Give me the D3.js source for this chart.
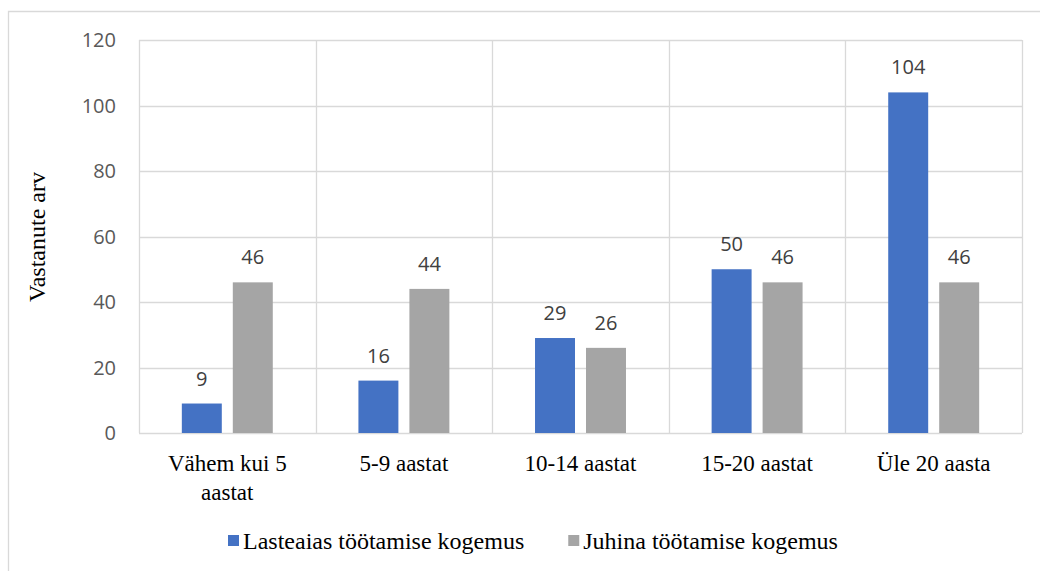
<!DOCTYPE html>
<html><head><meta charset="utf-8">
<script src="https://cdn.jsdelivr.net/npm/d3@7/dist/d3.min.js"></script>
<style>body{margin:0;background:#fff}svg{display:block}
.serif{font-family:"Liberation Serif","Times New Roman",Times,"DejaVu Serif",serif}
.sans{font-family:"Open Sans","Liberation Sans",sans-serif}
</style>
</head><body>
<script>
const categories = [["Vähem kui 5","aastat"],["5-9 aastat"],["10-14 aastat"],["15-20 aastat"],["Üle 20 aasta"]];
const seriesNames = ["Lasteaias töötamise kogemus","Juhina töötamise kogemus"];
const lasteaias = [9,16,29,50,104];
const juhina = [46,44,26,46,46];
const yTicks = [0,20,40,60,80,100,120];
const colors = ["#4472C4","#A5A5A5"];

(function(){
const W=1040,H=571;
const svg=d3.select("body").append("svg").attr("width",W).attr("height",H);
svg.append("rect").attr("width",W).attr("height",H).attr("fill","#fff");
svg.append("path").attr("d","M8.5,"+H+"V11.5H"+W).attr("fill","none").attr("stroke","#d9d9d9").attr("stroke-width",1.3);

const pL=139,pR=1022,pT=40,pB=433;
const x=d3.scaleBand().domain(d3.range(categories.length)).range([pL,pR]).paddingInner(0).paddingOuter(0);
const y=d3.scaleLinear().domain([0,120]).range([pB,pT]);
const x1=d3.scaleBand().domain([0,1]).range([0,x.bandwidth()]).paddingInner(0.216).paddingOuter(0.84);

const g=svg.append("g");
g.selectAll("line.h").data(yTicks).join("line")
 .attr("x1",pL).attr("x2",pR).attr("y1",d=>Math.round(y(d))+0.5).attr("y2",d=>Math.round(y(d))+0.5)
 .attr("stroke","#d9d9d9").attr("stroke-width",1.3);
const vx=d3.range(categories.length+1).map(i=>i<categories.length?x(i):pR);
g.selectAll("line.v").data(vx).join("line")
 .attr("x1",d=>Math.round(d)+0.5).attr("x2",d=>Math.round(d)+0.5).attr("y1",pT).attr("y2",pB)
 .attr("stroke","#d9d9d9").attr("stroke-width",1.3);

g.selectAll("text.yt").data(yTicks).join("text").attr("class","sans")
 .attr("x",116).attr("y",d=>y(d)+7).attr("text-anchor","end")
 .attr("font-size",20).attr("fill","#595959")
 .text(d=>d);

svg.append("text").attr("class","serif").attr("transform","translate(45,237) rotate(-90)").attr("text-anchor","middle")
 .attr("font-size",24).attr("fill","#000").text("Vastanute arv");

const series=[lasteaias,juhina];
series.forEach((vals,si)=>{
  g.selectAll("rect.s"+si).data(vals).join("rect")
   .attr("x",(d,i)=>x(i)+x1(si)).attr("width",x1.bandwidth())
   .attr("y",d=>y(d)).attr("height",d=>pB-y(d)).attr("fill",colors[si]);
  g.selectAll("text.l"+si).data(vals).join("text").attr("class","sans")
   .attr("x",(d,i)=>x(i)+x1(si)+x1.bandwidth()/2).attr("y",d=>y(d)-18)
   .attr("text-anchor","middle")
   .attr("font-size",20).attr("fill","#404040").text(d=>d);
});

categories.forEach((lines,i)=>{
  const t=svg.append("text").attr("class","serif").attr("text-anchor","middle")
   .attr("font-size",23).attr("fill","#000");
  lines.forEach((ln,j)=>t.append("tspan").attr("x",x(i)+x.bandwidth()/2).attr("y",471+j*29).text(ln));
});

let lx=228;
seriesNames.forEach((n,i)=>{
  svg.append("rect").attr("x",lx).attr("y",535).attr("width",11).attr("height",11).attr("fill",colors[i]);
  const t=svg.append("text").attr("class","serif").attr("x",lx+15).attr("y",549)
   .attr("font-size",24).attr("fill","#000").text(n);
  lx = lx+15+t.node().getComputedTextLength()+44;
});
})();
</script>
</body></html>
